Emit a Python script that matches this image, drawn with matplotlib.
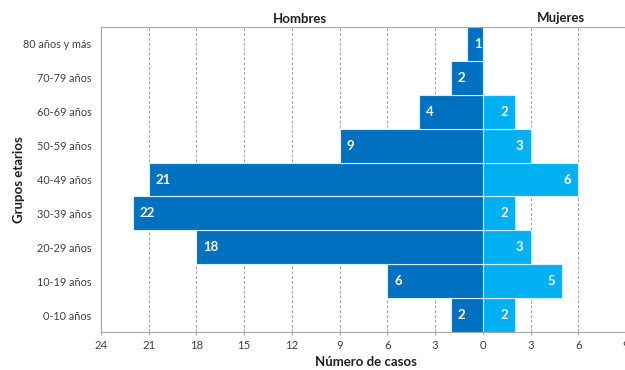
import matplotlib.pyplot as plt

groups = ["0-10 años", "10-19 años", "20-29 años", "30-39 años", "40-49 años",
          "50-59 años", "60-69 años", "70-79 años", "80 años y más"]
hombres = [2, 6, 18, 22, 21, 9, 4, 2, 1]
mujeres = [2, 5, 3, 2, 6, 3, 2, 0, 0]
xticks = [-24, -21, -18, -15, -12, -9, -6, -3, 0, 3, 6, 9]

plt.rcParams["font.family"] = ["Lato", "DejaVu Sans"]

fig = plt.figure(figsize=(6.25, 3.7), dpi=100)
ax = fig.add_axes([0.1616, 0.1027, 0.8400, 0.8243])

y = range(len(groups))
ax.barh(y, [-h for h in hombres], height=1.0, color="#0070C0",
        edgecolor="#d8eef8", linewidth=0.8, zorder=2)
ax.barh(y, mujeres, height=1.0, color="#00B0F0",
        edgecolor="#d8eef8", linewidth=0.8, zorder=2)

for i, (h, m) in enumerate(zip(hombres, mujeres)):
    if h:
        ax.annotate(str(h), (-h, i), xytext=(5, 0), textcoords="offset points",
                    ha="left", va="center", color="white", fontsize=9.5,
                    fontweight="bold", zorder=3)
    if m:
        ax.annotate(str(m), (m, i), xytext=(-5, 0), textcoords="offset points",
                    ha="right", va="center", color="white", fontsize=9.5,
                    fontweight="bold", zorder=3)

ax.set_xlim(-24, 9)
ax.set_ylim(-0.5, len(groups) - 0.5)
ax.set_xticks(xticks)
ax.set_xticklabels([str(abs(t)) for t in xticks])
ax.set_yticks(list(y))
ax.set_yticklabels(groups)

for t in xticks[1:]:
    if t != 0:
        ax.axvline(t, color="#a0a0a0", linestyle=(0, (3, 2)), linewidth=0.7, zorder=1)

for side in ["left", "bottom", "top"]:
    ax.spines[side].set_color("#a6a6a6")
ax.spines["right"].set_visible(False)
ax.tick_params(axis="y", length=0, pad=7, labelsize=7.8, labelcolor="#404040")
ax.tick_params(axis="x", length=4, color="#a6a6a6", labelsize=8.2,
               labelcolor="#404040", direction="inout", pad=4)

ax.set_ylabel("Grupos etarios", fontsize=9.5, fontweight="bold", color="#202020")
ax.yaxis.set_label_coords(-0.145, 0.5)
ax.set_xlabel("Número de casos", fontsize=9.5, fontweight="bold", color="#202020")
ax.xaxis.set_label_coords(0.505, -0.08)

fig.text(0.48, 0.948, "Hombres", ha="center", va="center", fontsize=9.5,
         fontweight="bold", color="#202020")
fig.text(0.897, 0.952, "Mujeres", ha="center", va="center", fontsize=9.5,
         fontweight="bold", color="#202020")

fig.savefig("out.png", dpi=100)
